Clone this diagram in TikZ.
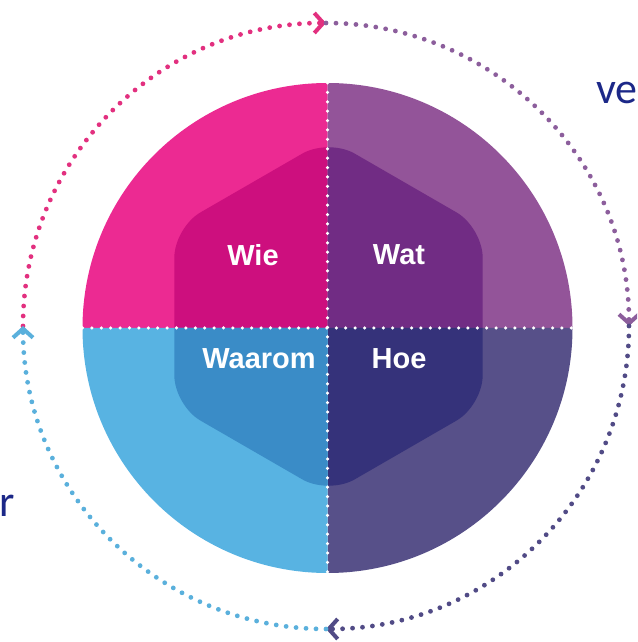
\documentclass[tikz,border=0pt]{standalone}
\usepackage{fontspec}
\usepackage{tikz}
\usetikzlibrary{arrows.meta}
\usepackage{xcolor}
\newfontfamily\quadfont{Liberation Sans}
\newfontfamily\sidefont{Carlito}
\definecolor{pinkout}{HTML}{EC2A92}
\definecolor{pinkin}{HTML}{CD0F7E}
\definecolor{purpout}{HTML}{935499}
\definecolor{purpin}{HTML}{712C84}
\definecolor{blueout}{HTML}{58B3E2}
\definecolor{bluein}{HTML}{3A8CC7}
\definecolor{navyout}{HTML}{575089}
\definecolor{navyin}{HTML}{35327A}
\definecolor{pinkring}{HTML}{E2307F}
\definecolor{purpring}{HTML}{8C5E9C}
\definecolor{navyring}{HTML}{514B86}
\definecolor{bluering}{HTML}{5AB0DC}
\definecolor{sidenavy}{HTML}{1C2888}

\begin{document}
\begin{tikzpicture}[x=1pt,y=1pt,
        quadlabel/.style={text=white, inner sep=0pt, font=\quadfont\bfseries\fontsize{29}{29}\selectfont},
        sidetext/.style={text=sidenavy, inner sep=0pt, font=\sidefont\fontsize{44}{44}\selectfont},
        ringdots/.style={line width=4.8pt, dash pattern=on 0pt off 10pt, line cap=round},
        whitedots/.style={white, line width=3.5pt, dash pattern=on 0pt off 9.4pt, line cap=round}]
        \useasboundingbox (0,0) rectangle (637,642);
        \clip (0,0) rectangle (637,642);
        \coordinate (C) at (327.5,314);
        \coordinate (H) at (328.5,325.5);
        \coordinate (O) at (326,316);
        % quarters with the hexagon inside
        \foreach \a/\outc/\inc in {90/pinkout/pinkin,0/purpout/purpin,270/navyout/navyin,180/blueout/bluein}
        {
        \begin{scope}
        \clip (C) -- ++(\a:260) arc[start angle=\a, delta angle=90, radius=260] -- cycle;
        \fill[\outc] (C) circle[radius=245];
        \fill[\inc, rounded corners=30pt, shift={(H)}] (0:154.2) -- (30:178) -- (90:178) -- (150:178)
            -- (210:178) -- (270:178) -- (330:178) -- cycle;
        \end{scope}
        }
        % dotted dividers
        \path (C) ++(90:245) coordinate (ctop) (C) ++(270:245) coordinate (cbot)
              (C) ++(180:245) coordinate (cleft) (C) ++(0:245) coordinate (cright);
        \draw[whitedots] (ctop) -- (cbot);
        \draw[whitedots] (cleft) -- (cright);

        \node[quadlabel] (wie) at (253,387) {Wie};
        \node[quadlabel] (wat) at (399,387) {Wat};
        \node[quadlabel] (waarom) at (259,283) {Waarom};
        \node[quadlabel] (hoe) at (399,283) {Hoe};

        % outer ring
        \foreach \s/\c in {180/pinkring,90/purpring,0/navyring,-90/bluering}
        \draw[ringdots, \c, -{Straight Barb[length=9pt,width=20pt,line width=4pt]}]
            (O) ++(\s:303) arc[start angle=\s, delta angle=-90, radius=303];

        \node[sidetext, anchor=base west] (ve) at (596,538.7) {ve};
        \node[sidetext, anchor=base east] (r) at (15,125.5) {r};
\end{tikzpicture}
\end{document}
